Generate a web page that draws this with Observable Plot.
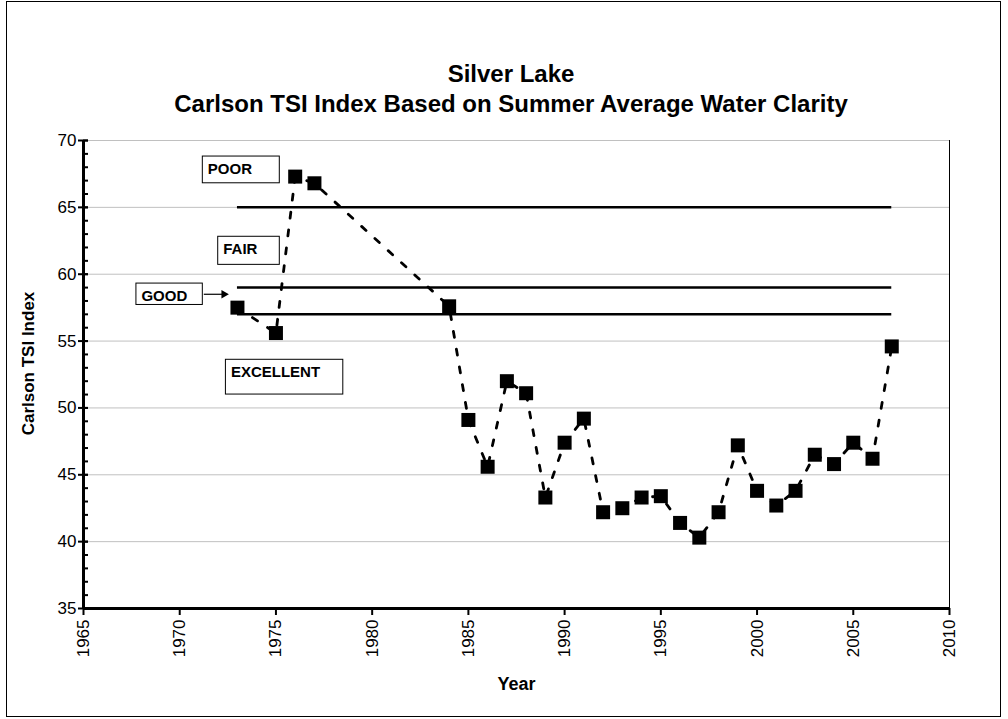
<!DOCTYPE html>
<html>
<head>
<meta charset="utf-8">
<script src="https://cdn.jsdelivr.net/npm/d3@7"></script>
<script src="https://cdn.jsdelivr.net/npm/@observablehq/plot@0.6"></script>
<style>
  html, body { margin: 0; padding: 0; background: #fff; }
  body { font-family: "Liberation Sans", Arial, sans-serif; }
  #wrap { position: relative; width: 1008px; height: 719px; overflow: hidden; background: #fff; }
  #border { position: absolute; left: 6px; top: 1px; width: 995px; height: 716px; border: 1px solid #000; box-sizing: border-box; }
  #title { position: absolute; left: 14px; width: 994px; top: 59px; text-align: center; font-weight: bold; font-size: 24px; line-height: 30px; color: #000; }
  #chart { position: absolute; left: 0; top: 120px; }
</style>
</head>
<body>
<div id="wrap">
  <div id="border"></div>
  <div id="title">Silver Lake<br>Carlson TSI Index Based on Summer Average Water Clarity</div>
  <div id="chart"></div>
</div>
<script>
// ---- data ----
const years  = [1973, 1975, 1976, 1977, 1984, 1985, 1986, 1987, 1988, 1989, 1990, 1991, 1992, 1993, 1994, 1995, 1996, 1997, 1998, 1999, 2000, 2001, 2002, 2003, 2004, 2005, 2006, 2007];
const tsi    = [57.5, 55.6, 67.3, 66.8, 57.6, 49.1, 45.6, 52.0, 51.1, 43.3, 47.4, 49.2, 42.2, 42.5, 43.3, 43.4, 41.4, 40.3, 42.2, 47.2, 43.8, 42.7, 43.8, 46.5, 45.8, 47.4, 46.2, 54.6];

// class boundary lines (TSI value) and their year span
const boundaryValues = [65, 59, 57];
const boundaryStart  = 1973;
const boundaryEnd    = 2007;

// class label boxes (in data units: years and TSI)
const classNames = ["POOR", "FAIR", "GOOD", "EXCELLENT"];
const classX1    = [1971.2, 1972.0, 1967.75, 1972.4];
const classX2    = [1975.2, 1975.2, 1971.2, 1978.5];
const classY1    = [68.8, 62.8, 59.3, 53.6];
const classY2    = [66.8, 60.7, 57.7, 51.0];
// arrow from GOOD box towards the GOOD band
const arrowX1 = [1971.25], arrowX2 = [1972.4], arrowY = [58.5];

// axes
const xDomain = [1965, 2010];
const yDomain = [35, 70];
const xTicks  = [1965, 1970, 1975, 1980, 1985, 1990, 1995, 2000, 2005, 2010];
const yTicks  = [35, 40, 45, 50, 55, 60, 65, 70];
const yMinor  = d3.range(35, 71, 1);
const xLabel  = "Year";
const yLabel  = "Carlson TSI Index";

const points = years.map((y, i) => ({year: y, tsi: tsi[i]}));
const boxes = classNames.map((n, i) => ({name: n, x1: classX1[i], x2: classX2[i], y1: classY1[i], y2: classY2[i]}));
const arrows = arrowX1.map((x, i) => ({x1: x, x2: arrowX2[i], y: arrowY[i]}));

const chart = Plot.plot({
  width: 1008,
  height: 599,
  marginTop: 20,
  marginBottom: 111,
  marginLeft: 83,
  marginRight: 59,
  style: {fontFamily: "'Liberation Sans', Arial, sans-serif", color: "#000", background: "transparent"},
  x: {domain: xDomain, label: null},
  y: {domain: yDomain, label: null},
  marks: [
    Plot.gridY(yTicks, {stroke: "#c0c0c0", strokeOpacity: 1, strokeWidth: 1}),
    Plot.ruleX([xDomain[1]], {stroke: "#000", strokeWidth: 1}),
    // class boundaries
    Plot.ruleY(boundaryValues, {x1: boundaryStart, x2: boundaryEnd, stroke: "#000", strokeWidth: 2.5}),
    // class boxes
    Plot.rect(boxes, {x1: "x1", x2: "x2", y1: "y1", y2: "y2", fill: "#fff", stroke: "#000", strokeWidth: 1}),
    Plot.text(boxes, {x: "x1", y: "y1", text: "name", textAnchor: "start", lineAnchor: "top", dx: 5, dy: 7, fontWeight: "bold", fontSize: 15, letterSpacing: "-0.4px", fill: "#000"}),
    // arrow: shaft + filled head
    Plot.link(arrows, {x1: "x1", x2: "x2", y1: "y", y2: "y", stroke: "#000", strokeWidth: 1.2}),
    Plot.dot(arrows, {x: "x2", y: "y", symbol: "triangle", rotate: 90, r: 3.2, dx: -2, fill: "#000", stroke: "none"}),
    // series
    Plot.line(points, {x: "year", y: "tsi", stroke: "#000", strokeWidth: 2.8, strokeDasharray: "6,12"}),
    Plot.dot(points, {x: "year", y: "tsi", symbol: "square", r: 7.9, fill: "#000", stroke: "none"}),
    // axes
    Plot.axisY(yTicks, {tickSize: 0, tickPadding: 7, fontSize: 17, label: null}),
    Plot.axisY(yTicks, {tickSize: 10, dx: 5, fill: "none", label: null, strokeWidth: 2}),
    Plot.axisY(yMinor, {tickSize: 5, dx: 5, fill: "none", label: null, strokeWidth: 2}),
    Plot.axisX(xTicks, {tickSize: 7, tickPadding: 4, tickRotate: -90, tickFormat: d => String(d), fontSize: 17, label: null, strokeWidth: 2}),
    Plot.ruleY([yDomain[0]], {stroke: "#000", strokeWidth: 3}),
    Plot.ruleX([xDomain[0]], {stroke: "#000", strokeWidth: 3}),
    // axis titles
    Plot.text([xLabel], {frameAnchor: "bottom", dy: 81, text: d => d, fontWeight: "bold", fontSize: 18, fill: "#000"}),
    Plot.text([yLabel], {frameAnchor: "left", textAnchor: "middle", rotate: -90, dx: -55, dy: -11, text: d => d, fontWeight: "bold", fontSize: 17, fill: "#000"})
  ]
});
document.getElementById("chart").appendChild(chart);
</script>
</body>
</html>
